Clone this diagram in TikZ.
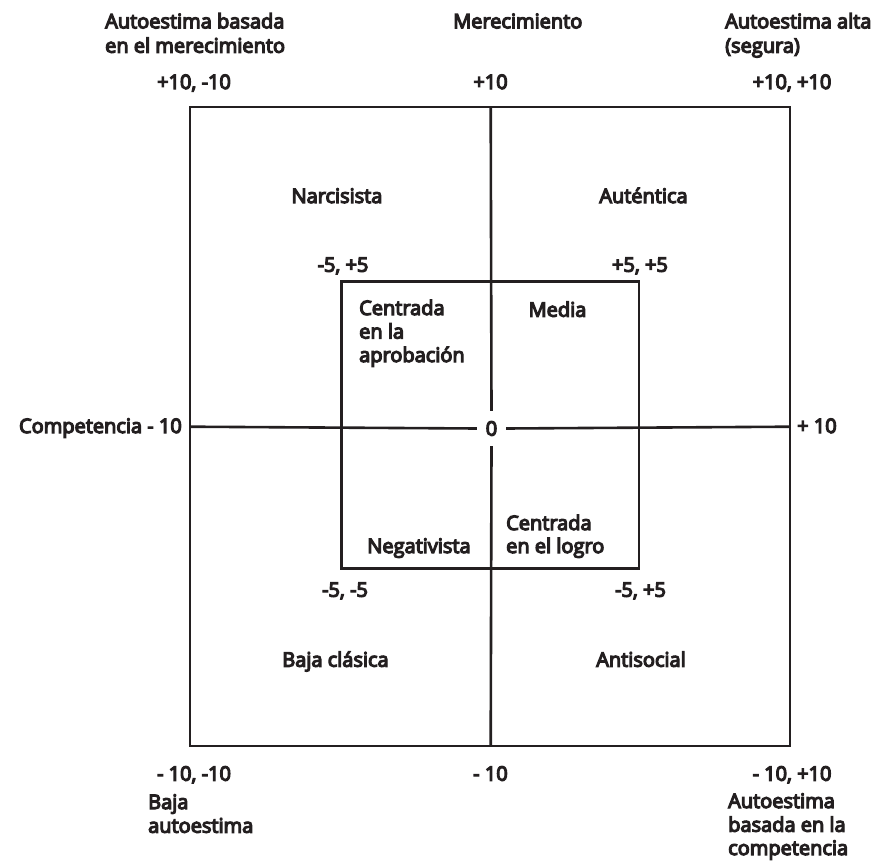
\documentclass[tikz,border=0pt]{standalone}
\usepackage{fontspec}
\newfontfamily\labfont{Open Sans}[FakeBold=6,FakeStretch=1.0]
\definecolor{ink}{HTML}{231F20}
\begin{document}
\begin{tikzpicture}[x=1pt,y=-1pt,
  lab/.style={inner sep=0pt,anchor=base,text=ink,font=\labfont\fontsize{20}{24}\selectfont},
  labw/.style={lab,anchor=base west},
  labe/.style={lab,anchor=base east},
  frame/.style={draw=ink,line width=2.6pt},
  axis/.style={draw=ink,line width=2.6pt}]
\useasboundingbox (0,0) rectangle (876,862);
% corners of the frames
\coordinate (TL) at (190,107);
\coordinate (BR) at (790,746);
\coordinate (TM) at (490.7,107);
\coordinate (BM) at (490.7,746);
\coordinate (LM) at (190,426.7);
\coordinate (RM) at (790,426.7);
\coordinate (iTL) at (341.7,281.7);
\coordinate (iBR) at (639,568.5);
% origin label
\node[lab,anchor=center,minimum width=29pt,minimum height=35pt] (zero) at (491.5,428.5) {0};
% frames and axes
\draw[frame] (TL) rectangle (BR);
\draw[frame] (iTL) rectangle (iBR);
\draw[axis] (TM) -- (zero.north);
\draw[axis] (zero.south) -- (BM);
\draw[axis] (LM) -- (zero.west);
\draw[axis] (zero.east) -- (RM);
% top labels
\node[labw] (tl1) at (105,28.3) {Autoestima basada};
\node[labw] (tl2) at (105,52.7) {en el merecimiento};
\node[labw] (tm) at (453,28.3) {Merecimiento};
\node[labw] (tr1) at (725,28.3) {Autoestima alta};
\node[labw] (tr2) at (725,52.7) {(segura)};
\node[lab] (ctl) at (194,89) {+10, -10};
\node[lab] (ctm) at (490.5,89) {+10};
\node[lab] (ctr) at (792,89) {+10, +10};
% quadrants
\node[lab] (narc) at (337,203) {Narcisista};
\node[lab] (aut) at (643.5,203) {Auténtica};
\node[lab] (itl) at (343,271.7) {-5, +5};
\node[lab] (itr) at (640,271.7) {+5, +5};
\node[labw] (ap1) at (359,315) {Centrada};
\node[labw] (ap2) at (359,338.5) {en la};
\node[labw] (ap3) at (359,362) {aprobación};
\node[lab] (media) at (557.5,316.7) {Media};
\node[labe] (comp) at (182,433) {Competencia - 10};
\node[labw] (plus) at (797,433) {+ 10};
\node[lab] (neg) at (419,553) {Negativista};
\node[labw] (lo1) at (506,530) {Centrada};
\node[labw] (lo2) at (506,553) {en el logro};
\node[lab] (ibl) at (345,596.7) {-5, -5};
\node[lab] (ibr) at (640.5,596.7) {-5, +5};
\node[lab] (baja) at (335.5,666.7) {Baja clásica};
\node[lab] (anti) at (641,666.7) {Antisocial};
% bottom labels
\node[lab] (cbl) at (194,780.7) {- 10, -10};
\node[lab] (cbm) at (490.5,780.7) {- 10};
\node[lab] (cbr) at (792,780.7) {- 10, +10};
\node[labw] (bl1) at (148,809) {Baja};
\node[labw] (bl2) at (148,832.7) {autoestima};
\node[labw] (br1) at (728,808) {Autoestima};
\node[labw] (br2) at (728,831.7) {basada en la};
\node[labw] (br3) at (728,855) {competencia};
\end{tikzpicture}
\end{document}
